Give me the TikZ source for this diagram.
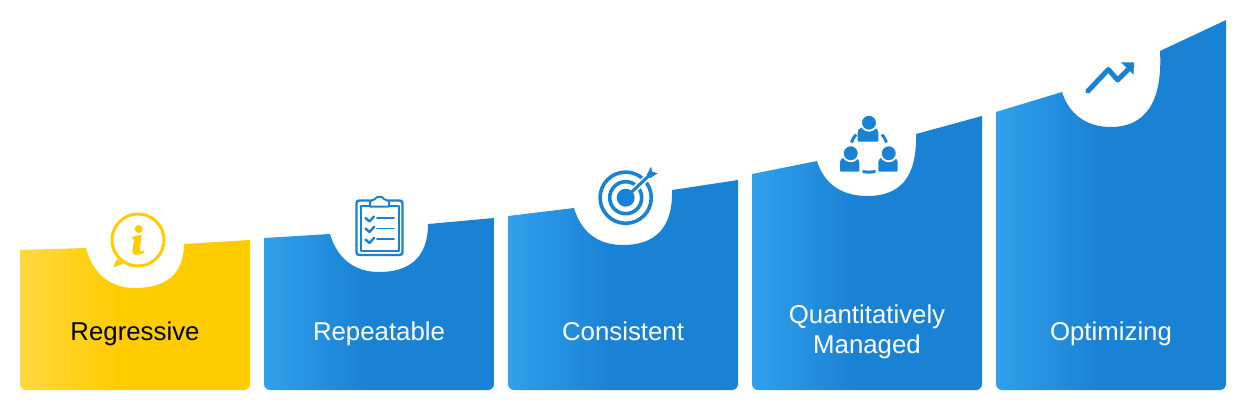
\documentclass[tikz,border=0pt]{standalone}
\usepackage{fontspec}
\setmainfont{Liberation Sans}
\definecolor{bluelight}{HTML}{30A0EC}
\definecolor{bluedark}{HTML}{1A82D4}
\definecolor{yellowlight}{HTML}{FFD840}
\definecolor{yellowdark}{HTML}{FFCC00}
\pgfdeclarehorizontalshading{bluebar}{100bp}{color(0bp)=(bluelight); color(25bp)=(bluelight); color(47bp)=(bluedark); color(100bp)=(bluedark)}
\pgfdeclarehorizontalshading{yellowbar}{100bp}{color(0bp)=(yellowlight); color(25bp)=(yellowlight); color(47bp)=(yellowdark); color(100bp)=(yellowdark)}

\begin{document}
\begin{tikzpicture}[x=1pt,y=-1pt,line cap=round,line join=round,
    steplabel/.style={text=white,align=center,inner sep=0pt,font=\fontsize{25.8}{30.5}\selectfont},
    headring/.style={draw=white,line width=1.8pt,fill=bluedark}]
  \useasboundingbox (0,0) rectangle (1254,410);
  % first bar
  \path[shading=yellowbar] (20,250) -- (86,248) .. controls (93,274) and (110,288) .. (135,288) .. controls (165,288) and (184,275) .. (184,244) -- (250,240) [rounded corners=6pt] -- (250,390) -- (20,390) [sharp corners] -- (20,250) -- cycle;
  % second bar
  \path[shading=bluebar] (264,238) -- (330,234) .. controls (337,258) and (354,272) .. (379,272) .. controls (409,272) and (428,258) .. (428,224) -- (494,218) [rounded corners=6pt] -- (494,390) -- (264,390) [sharp corners] -- (264,238) -- cycle;
  % third bar
  \path[shading=bluebar] (508,216) -- (574,208) .. controls (581,232) and (598,245) .. (623,245) .. controls (655,245) and (673,228) .. (672,190) -- (738,180) [rounded corners=6pt] -- (738,390) -- (508,390) [sharp corners] -- (508,216) -- cycle;
  % fourth bar
  \path[shading=bluebar] (752,174) -- (817,161) .. controls (824,184) and (842,196) .. (867,196) .. controls (900,196) and (917,178) .. (916,134) -- (982,116) [rounded corners=6pt] -- (982,390) -- (752,390) [sharp corners] -- (752,174) -- cycle;
  % fifth bar
  \path[shading=bluebar] (996,112) -- (1062,92) .. controls (1069,114) and (1086,127) .. (1111,127) .. controls (1143,127) and (1163,105) .. (1160,51) -- (1226,20) [rounded corners=6pt] -- (1226,390) -- (996,390) [sharp corners] -- (996,112) -- cycle;
  % labels
  \node[steplabel,text=black,anchor=base] (regressive) at (135,340) {Regressive};
  \node[steplabel,anchor=base] (repeatable) at (379,340) {Repeatable};
  \node[steplabel,anchor=base] (consistent) at (623,340) {Consistent};
  \node[steplabel] (managed) at (867,332) {Quantitatively\\Managed};
  \node[steplabel,anchor=base] (optimizing) at (1111,340) {Optimizing};
  % info icon
  \draw[yellowdark,line width=3pt] (138,240) circle (26);
  \fill[yellowdark] (117,259) -- (113,267.5) -- (124,263.5) -- cycle;
  \fill[yellowdark] (138.7,229) circle (4);
  \fill[yellowdark] (131.5,237) -- (141.5,234.5) -- (139.8,249.5) .. controls (139.8,252) and (141,252) .. (144.5,250) -- (143.5,253) .. controls (138,255.5) and (132,256) .. (132.5,251) -- (134,240) -- cycle;
  % clipboard icon
  \draw[bluedark,line width=2.4pt] (359.5,200.5) -- (399.5,200.5) .. controls (401.5,200.5) and (402.5,201.5) .. (402.5,203.5) -- (402.5,252) .. controls (402.5,254) and (401.5,255) .. (399.5,255) -- (359.5,255) .. controls (357.5,255) and (356.5,254) .. (356.5,252) -- (356.5,203.5) .. controls (356.5,201.5) and (357.5,200.5) .. (359.5,200.5) -- cycle;
  \draw[bluedark,line width=2pt] (370,205.5) -- (361,205.5) -- (361,250.5) -- (398.5,250.5) -- (398.5,205.5) -- (389,205.5);
  \draw[bluedark,line width=2pt,fill=white] (370,206.5) -- (370,201.5) -- (375,199) .. controls (376,196) and (383,196) .. (384,199) -- (389,201.5) -- (389,206.5) -- cycle;
  \draw[bluedark,line width=2.4pt] (365.5,218) -- (369.5,221.5) -- (374,216.5);
  \draw[bluedark,line width=2.4pt] (365.5,228.5) -- (369.5,232) -- (374,227);
  \draw[bluedark,line width=2.4pt] (365.5,239.5) -- (369.5,243) -- (374,238);
  \draw[bluedark,line width=1.6pt] (377,218) -- (394,218);
  \draw[bluedark,line width=1.6pt] (377,228.5) -- (394,228.5);
  \draw[bluedark,line width=1.6pt] (377,239) -- (394,239);
  % target icon
  \draw[bluedark,line width=3.6pt] (625.7,197.7) circle (25.6);
  \draw[bluedark,line width=3.6pt] (625.7,197.7) circle (16);
  \draw[white,line width=6.5pt,line cap=butt] (632,191.5) -- (650,175);
  \fill[bluedark] (625.7,197.7) circle (9);
  \draw[bluedark,line width=3pt] (627,196.5) -- (648,176.5);
  \fill[bluedark] (646.7,175) -- (651,166.7) -- (652.3,171.7) -- (657.7,173.3) -- (650,178.3) -- cycle;
  % people icon
  \fill[bluedark,rounded corners=1pt] (857.7,141.7) -- (857.7,133) .. controls (858,129) and (861,127) .. (868,126) .. controls (875,127) and (878,129) .. (878.3,133) -- (878.3,141.7) -- cycle;
  \fill[bluedark,rounded corners=1pt] (840,171.7) -- (840,163) .. controls (840.3,159) and (843,157) .. (849.7,156) .. controls (856,157) and (859,159) .. (859.3,163) -- (859.3,171.7) -- cycle;
  \fill[bluedark,rounded corners=1pt] (878.3,171.7) -- (878.3,163) .. controls (878.6,159) and (881.3,157) .. (888,156) .. controls (894.7,157) and (897.4,159) .. (897.7,163) -- (897.7,171.7) -- cycle;
  \draw[headring] (869,122.7) circle (8);
  \draw[headring] (850.7,153.3) circle (8);
  \draw[headring] (888.7,153.3) circle (8);
  \draw[bluedark,line width=3pt,line cap=butt] (851.5,142.5) .. controls (852.5,139.5) and (854,137) .. (856,134.5);
  \draw[bluedark,line width=3pt,line cap=butt] (886.5,142.5) .. controls (885.5,139.5) and (884,137) .. (882,134.5);
  \draw[bluedark,line width=3pt,line cap=butt] (862.5,171.5) .. controls (866,172.3) and (872,172.3) .. (875.5,171.5);
  % trend icon
  \draw[bluedark,line width=5pt] (1088,91) -- (1108.3,69.5) -- (1117.7,80) -- (1128,69.5);
  \fill[bluedark] (1121,62.3) -- (1134,62.3) -- (1133.5,74.5) -- cycle;
\end{tikzpicture}
\end{document}
